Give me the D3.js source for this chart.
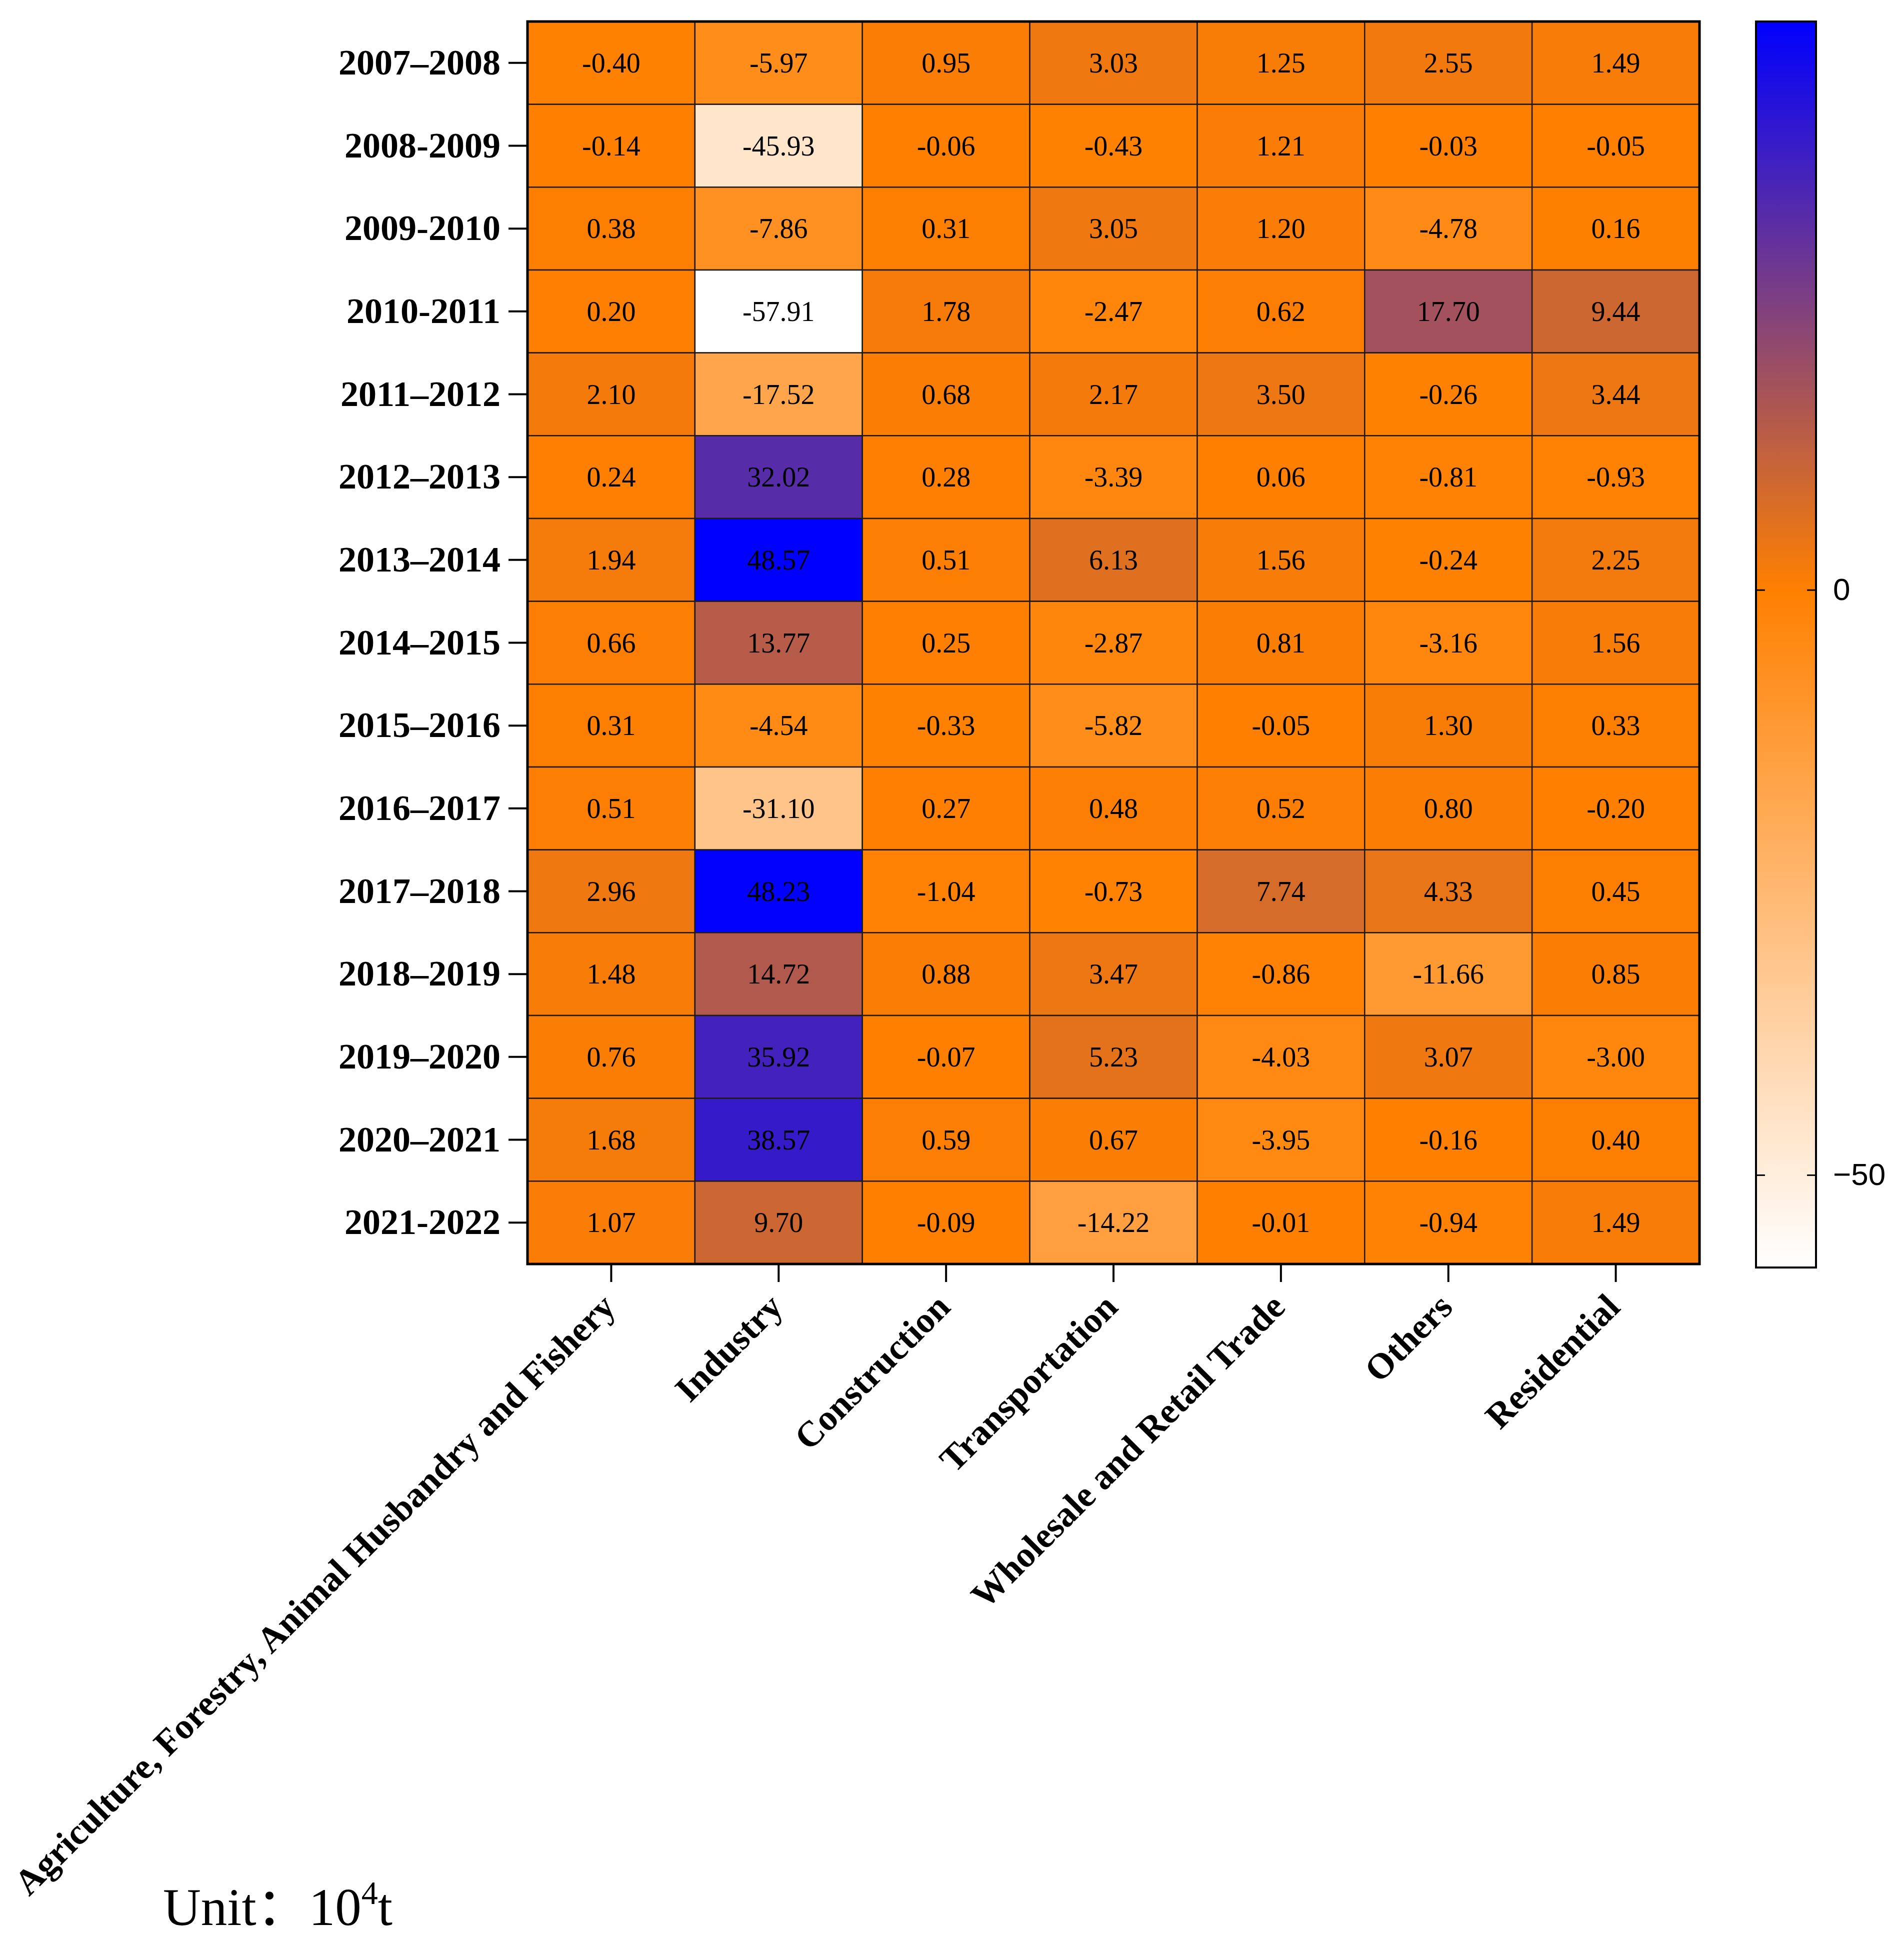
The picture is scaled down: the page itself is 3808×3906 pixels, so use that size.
<!DOCTYPE html>
<html>
<head>
<meta charset="utf-8">
<script src="https://cdn.jsdelivr.net/npm/d3@7"></script>
<style>
  body { margin: 0; background: #fff; }
</style>
</head>
<body>
<svg id="drawing_region"></svg>
<script>
// periods (rows) and sectors (columns)
const periods = ["2007–2008", "2008-2009", "2009-2010", "2010-2011", "2011–2012", "2012–2013",
    "2013–2014", "2014–2015", "2015–2016", "2016–2017", "2017–2018", "2018–2019",
    "2019–2020", "2020–2021", "2021-2022"];
const sectors = ["Agriculture, Forestry, Animal Husbandry and Fishery", "Industry", "Construction",
    "Transportation", "Wholesale and Retail Trade", "Others", "Residential"];

// one array per sector, one value per period
const agriculture    = [-0.40, -0.14, 0.38, 0.20, 2.10, 0.24, 1.94, 0.66, 0.31, 0.51, 2.96, 1.48, 0.76, 1.68, 1.07];
const industry       = [-5.97, -45.93, -7.86, -57.91, -17.52, 32.02, 48.57, 13.77, -4.54, -31.10, 48.23, 14.72, 35.92, 38.57, 9.70];
const construction   = [0.95, -0.06, 0.31, 1.78, 0.68, 0.28, 0.51, 0.25, -0.33, 0.27, -1.04, 0.88, -0.07, 0.59, -0.09];
const transportation = [3.03, -0.43, 3.05, -2.47, 2.17, -3.39, 6.13, -2.87, -5.82, 0.48, -0.73, 3.47, 5.23, 0.67, -14.22];
const wholesale      = [1.25, 1.21, 1.20, 0.62, 3.50, 0.06, 1.56, 0.81, -0.05, 0.52, 7.74, -0.86, -4.03, -3.95, -0.01];
const others         = [2.55, -0.03, -4.78, 17.70, -0.26, -0.81, -0.24, -3.16, 1.30, 0.80, 4.33, -11.66, 3.07, -0.16, -0.94];
const residential    = [1.49, -0.05, 0.16, 9.44, 3.44, -0.93, 2.25, 1.56, 0.33, -0.20, 0.45, 0.85, -3.00, 0.40, 1.49];

const colorTicks = [-50, 0];
const unitLabel = "Unit：10";

const columns = [agriculture, industry, construction, transportation, wholesale, others, residential];

let cells = [];
columns.forEach((col, j) => {
    col.forEach((v, i) => {
        cells.push({ sector: sectors[j], period: periods[i], value: v });
    });
});

const W = 3808, H = 3906;
const plot = { left: 1055, right: 3399, top: 43, bottom: 2528 };

const svg = d3.select('#drawing_region')
    .attr('width', W)
    .attr('height', H);

const x = d3.scaleBand().domain(sectors).range([plot.left, plot.right]);
const y = d3.scaleBand().domain(periods).range([plot.top, plot.bottom]);

const vmin = d3.min(cells, d => d.value);
const vmax = d3.max(cells, d => d.value);
const color = d3.scaleLinear()
    .domain([vmin, 0, vmax])
    .range(["#ffffff", "#ff8000", "#0000ff"])
    .interpolate(d3.interpolateRgb);

// cells
svg.append('g').selectAll('rect')
    .data(cells).enter()
    .append('rect')
    .attr('x', d => x(d.sector))
    .attr('y', d => y(d.period))
    .attr('width', x.bandwidth())
    .attr('height', y.bandwidth())
    .attr('fill', d => color(d.value))
    .attr('stroke', '#1e1a16')
    .attr('stroke-width', 2.5);

svg.append('g').selectAll('text')
    .data(cells).enter()
    .append('text')
    .attr('x', d => x(d.sector) + x.bandwidth() / 2)
    .attr('y', d => y(d.period) + y.bandwidth() / 2)
    .attr('text-anchor', 'middle')
    .attr('dominant-baseline', 'central')
    .style('font-family', '"Liberation Serif", "Times New Roman", serif')
    .style('font-size', '56px')
    .attr('fill', '#000')
    .text(d => d.value.toFixed(2));

// frame
svg.append('rect')
    .attr('x', plot.left).attr('y', plot.top)
    .attr('width', plot.right - plot.left).attr('height', plot.bottom - plot.top)
    .attr('fill', 'none')
    .attr('stroke', '#000')
    .attr('stroke-width', 5);

// y axis
const yAxis = svg.append('g')
    .attr('transform', `translate(${plot.left - 2},0)`)
    .call(d3.axisLeft(y).tickSize(36).tickPadding(16));
yAxis.select('.domain').remove();
yAxis.selectAll('line').attr('stroke', '#000').attr('stroke-width', 4);
yAxis.selectAll('text')
    .attr('fill', '#000')
    .style('font-family', '"Liberation Serif", "Times New Roman", serif')
    .style('font-weight', 'bold')
    .style('font-size', '72px');

// x axis
const xAxis = svg.append('g')
    .attr('transform', `translate(0,${plot.bottom + 2})`)
    .call(d3.axisBottom(x).tickSize(34).tickPadding(0));
xAxis.select('.domain').remove();
xAxis.selectAll('line').attr('stroke', '#000').attr('stroke-width', 4);
xAxis.selectAll('text')
    .attr('fill', '#000')
    .attr('y', 0)
    .attr('dy', 0)
    .attr('transform', 'translate(12,88) rotate(-45)')
    .attr('text-anchor', 'end')
    .style('font-family', '"Liberation Serif", "Times New Roman", serif')
    .style('font-weight', 'bold')
    .style('font-size', '72px');

// colour bar
const cb = { left: 3512, right: 3632, top: 43, bottom: 2535 };
const cScale = d3.scaleLinear().domain([vmin, vmax]).range([cb.bottom, cb.top]);

const grad = svg.append('defs').append('linearGradient')
    .attr('id', 'cbGrad')
    .attr('x1', 0).attr('y1', 1).attr('x2', 0).attr('y2', 0);
[vmin, 0, vmax].forEach(v => {
    grad.append('stop')
        .attr('offset', (v - vmin) / (vmax - vmin))
        .attr('stop-color', color(v));
});

svg.append('rect')
    .attr('x', cb.left).attr('y', cb.top)
    .attr('width', cb.right - cb.left).attr('height', cb.bottom - cb.top)
    .attr('fill', 'url(#cbGrad)')
    .attr('stroke', '#000')
    .attr('stroke-width', 4);

const cAxisR = svg.append('g')
    .attr('transform', `translate(${cb.right},0)`)
    .call(d3.axisRight(cScale).tickValues(colorTicks).tickSizeInner(-18).tickSizeOuter(0).tickPadding(34));
cAxisR.select('.domain').remove();
cAxisR.selectAll('line').attr('stroke', '#000').attr('stroke-width', 3);
cAxisR.selectAll('text')
    .attr('fill', '#000')
    .style('font-family', '"Liberation Sans", Arial, sans-serif')
    .style('font-size', '62px');

const cAxisL = svg.append('g')
    .attr('transform', `translate(${cb.left},0)`)
    .call(d3.axisLeft(cScale).tickValues(colorTicks).tickSizeInner(-18).tickSizeOuter(0).tickFormat(''));
cAxisL.select('.domain').remove();
cAxisL.selectAll('line').attr('stroke', '#000').attr('stroke-width', 3);

// unit note
const unit = svg.append('text')
    .attr('x', 326)
    .attr('y', 3850)
    .attr('fill', '#000')
    .style('font-family', '"Liberation Serif", "Noto Sans CJK SC", serif')
    .style('font-size', '105px');
unit.append('tspan').text(unitLabel);
unit.append('tspan').attr('dy', -42).style('font-size', '66px').text('4');
unit.append('tspan').attr('dy', 42).text('t');
</script>
</body>
</html>
